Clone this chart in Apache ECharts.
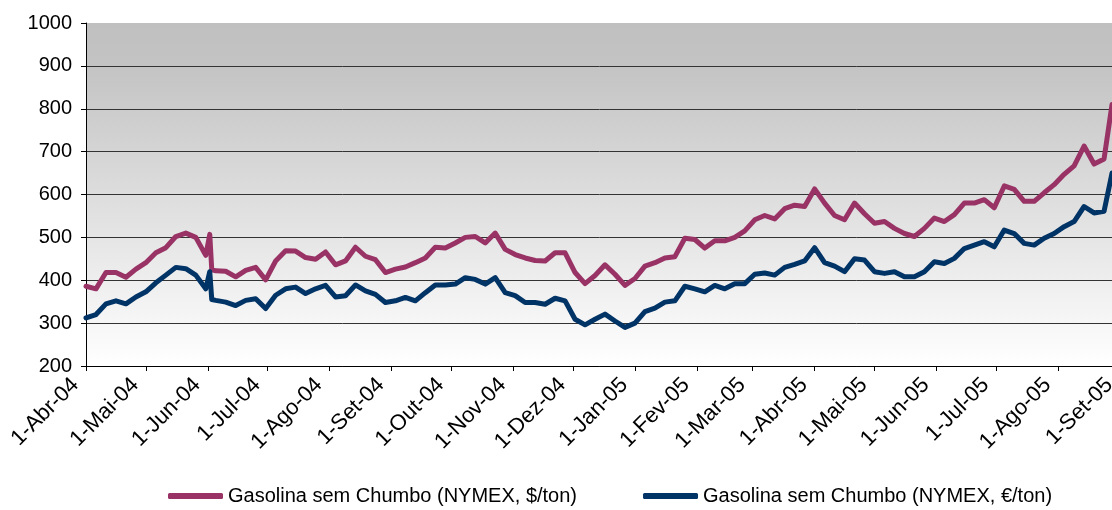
<!DOCTYPE html>
<html>
<head>
<meta charset="utf-8">
<script src="https://cdn.jsdelivr.net/npm/echarts@6/dist/echarts.min.js"></script>
<style>
  html, body { margin: 0; padding: 0; background: #fff; }
  #grafico { width: 1112px; height: 510px; }
</style>
</head>
<body>
<div id="grafico"></div>
<script>
// datas (aprox. de 5 em 5 dias)
var datas = [
  '2004-04-01','2004-04-06','2004-04-11','2004-04-16','2004-04-21','2004-04-26',
  '2004-05-01','2004-05-06','2004-05-11','2004-05-16','2004-05-21','2004-05-26','2004-05-31',
  '2004-06-01','2004-06-02','2004-06-03',
  '2004-06-05','2004-06-10','2004-06-15','2004-06-20','2004-06-25','2004-06-30',
  '2004-07-05','2004-07-10','2004-07-15','2004-07-20','2004-07-25','2004-07-30',
  '2004-08-04','2004-08-09','2004-08-14','2004-08-19','2004-08-24','2004-08-29',
  '2004-09-03','2004-09-08','2004-09-13','2004-09-18','2004-09-23','2004-09-28',
  '2004-10-03','2004-10-08','2004-10-13','2004-10-18','2004-10-23','2004-10-28',
  '2004-11-02','2004-11-07','2004-11-12','2004-11-17','2004-11-22','2004-11-27',
  '2004-12-02','2004-12-07','2004-12-12','2004-12-17','2004-12-22','2004-12-27',
  '2005-01-01','2005-01-06','2005-01-11','2005-01-16','2005-01-21','2005-01-26','2005-01-31',
  '2005-02-05','2005-02-10','2005-02-15','2005-02-20','2005-02-25',
  '2005-03-02','2005-03-07','2005-03-12','2005-03-17','2005-03-22','2005-03-27',
  '2005-04-01','2005-04-06','2005-04-11','2005-04-16','2005-04-21','2005-04-26',
  '2005-05-01','2005-05-06','2005-05-11','2005-05-16','2005-05-21','2005-05-26','2005-05-31',
  '2005-06-05','2005-06-10','2005-06-15','2005-06-20','2005-06-25','2005-06-30',
  '2005-07-05','2005-07-10','2005-07-15','2005-07-20','2005-07-25','2005-07-30',
  '2005-08-04','2005-08-09','2005-08-14','2005-08-19','2005-08-24','2005-08-28'
];

var gasolinaUSD = [
  386, 380, 418, 418, 407, 426,
  441, 464, 476, 502, 510, 500, 458,
  460, 507, 425,
  422, 421, 408, 423, 430, 401,
  445, 469, 468, 453, 449, 466,
  436, 445, 477, 456, 448, 418,
  426, 431, 441, 452, 477, 475,
  487, 500, 502, 487, 510, 472,
  460, 452, 446, 445, 464, 464,
  418, 392, 411, 436, 414, 388,
  404, 433, 441, 452, 455, 498, 495,
  475, 492, 492, 500, 515,
  541, 551, 543, 567, 575, 572,
  613, 580, 551, 541, 580, 555,
  533, 537, 521, 509, 502, 521, 545,
  537, 553, 580, 580, 588, 569,
  620, 612, 584, 584, 604, 623,
  647, 667, 713, 671, 683, 810
];

var gasolinaEUR = [
  312, 320, 345, 352, 345, 361,
  373, 394, 412, 430, 427, 412, 380,
  378, 420, 355,
  353, 349, 341, 353, 357, 334,
  365, 380, 384, 369, 380, 388,
  361, 364, 389, 375, 367, 348,
  352, 360, 352, 371, 389, 389,
  391, 406, 402, 391, 406, 371,
  364, 348, 348, 344, 358, 352,
  309, 296, 309, 321, 305, 290,
  300, 327, 335, 349, 352, 386, 380,
  373, 388, 380, 392, 392,
  414, 417, 412, 430, 437, 445,
  476, 441, 433, 420, 450, 447,
  420, 416, 420, 408, 408, 420, 443,
  439, 451, 474, 482, 490, 478,
  517, 509, 486, 482, 498, 509,
  525, 537, 572, 557, 561, 650
];

// marcas mensais do eixo x
var meses = [
  '2004-04-01','2004-05-01','2004-06-01','2004-07-01','2004-08-01','2004-09-01',
  '2004-10-01','2004-11-01','2004-12-01','2005-01-01','2005-02-01','2005-03-01',
  '2005-04-01','2005-05-01','2005-06-01','2005-07-01','2005-08-01','2005-09-01'
];
var rotulosMeses = [
  '1-Abr-04','1-Mai-04','1-Jun-04','1-Jul-04','1-Ago-04','1-Set-04',
  '1-Out-04','1-Nov-04','1-Dez-04','1-Jan-05','1-Fev-05','1-Mar-05',
  '1-Abr-05','1-Mai-05','1-Jun-05','1-Jul-05','1-Ago-05','1-Set-05'
];

var nomeUSD = 'Gasolina sem Chumbo (NYMEX, $/ton)';
var nomeEUR = 'Gasolina sem Chumbo (NYMEX, €/ton)';

var fonte = 'Liberation Sans, Arial, sans-serif';

let chartDom = document.getElementById('grafico');
let myChart = echarts.init(chartDom, null, { renderer: 'canvas' });

function dia(s) {
  var p = s.split('-');
  return new Date(+p[0], +p[1] - 1, +p[2]).getTime();
}

var marcas = meses.map(dia);

function pares(valores) {
  return datas.map(function (d, i) { return [dia(d), valores[i]]; });
}

let option = {
  animation: false,
  backgroundColor: '#ffffff',
  grid: {
    left: 86,
    right: -22,
    top: 23,
    bottom: 144,
    outerBoundsMode: 'none',
    containLabel: false,
    show: true,
    borderWidth: 0,
    backgroundColor: new echarts.graphic.LinearGradient(0, 0, 0, 1, [
      { offset: 0, color: '#c0c0c0' },
      { offset: 0.12, color: '#c3c3c3' },
      { offset: 1, color: '#ffffff' }
    ])
  },
  legend: {
    left: 168,
    top: 486,
    padding: 0,
    icon: 'roundRect',
    itemWidth: 55,
    itemHeight: 6,
    itemGap: 66,
    textStyle: { fontFamily: fonte, fontSize: 20, color: '#000' },
    data: [nomeUSD, nomeEUR]
  },
  xAxis: {
    type: 'value',
    min: dia('2004-04-01'),
    max: dia('2005-09-08'),
    axisLine: { show: true, lineStyle: { color: '#000', width: 1 } },
    axisTick: { show: true, length: 5, lineStyle: { color: '#000' }, customValues: marcas },
    splitLine: { show: false },
    axisLabel: {
      customValues: marcas,
      rotate: 45,
      margin: 5,
      padding: [0, 15, 0, 0],
      color: '#000',
      fontFamily: fonte,
      fontSize: 22,
      formatter: function (v) {
        for (var i = 0; i < marcas.length; i++) {
          if (Math.abs(marcas[i] - v) < 43200000) return rotulosMeses[i];
        }
        return '';
      }
    }
  },
  yAxis: {
    type: 'value',
    min: 200,
    max: 1000,
    interval: 100,
    axisLine: { show: true, lineStyle: { color: '#000', width: 1 } },
    axisTick: { show: true, length: 5, lineStyle: { color: '#000' } },
    splitLine: { show: true, showMaxLine: false, lineStyle: { color: '#333', width: 1 } },
    axisLabel: {
      color: '#000', fontFamily: fonte, fontSize: 20, margin: 14,
      formatter: function (v) { return String(v); }
    }
  },
  series: [
    {
      name: nomeUSD,
      type: 'line',
      symbol: 'none',
      showSymbol: false,
      itemStyle: { color: '#993366' },
      lineStyle: { color: '#993366', width: 5, cap: 'round', join: 'round' },
      data: pares(gasolinaUSD)
    },
    {
      name: nomeEUR,
      type: 'line',
      symbol: 'none',
      showSymbol: false,
      itemStyle: { color: '#003366' },
      lineStyle: { color: '#003366', width: 5, cap: 'round', join: 'round' },
      data: pares(gasolinaEUR)
    }
  ]
};

option && myChart.setOption(option);
</script>
</body>
</html>
